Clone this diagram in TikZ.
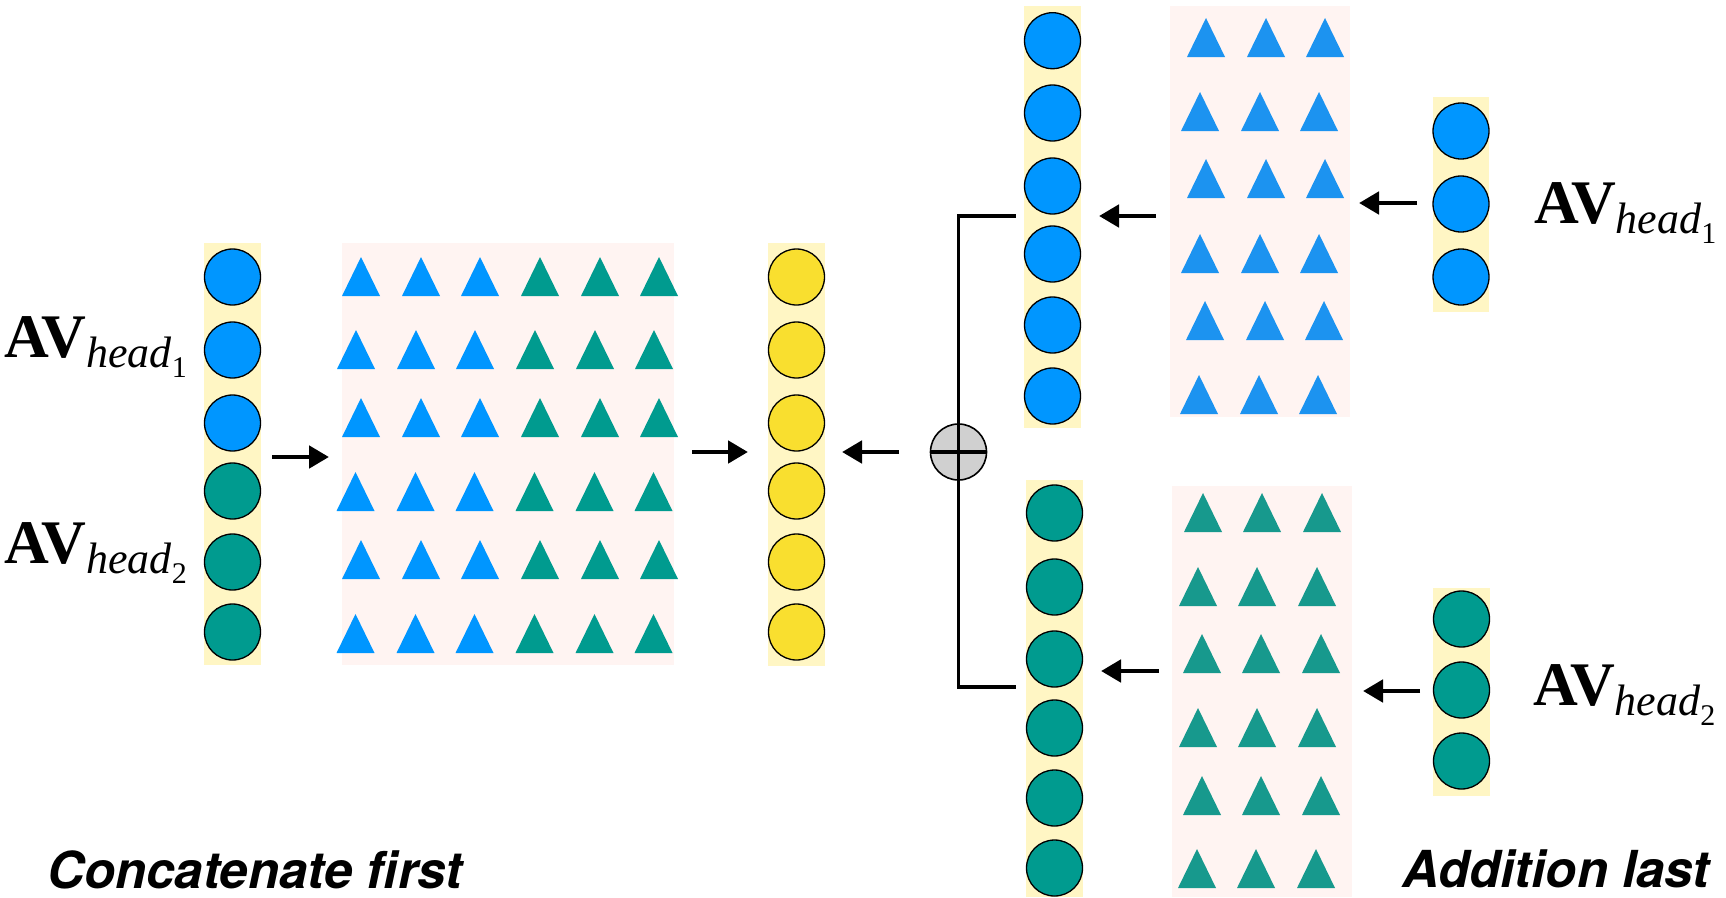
\documentclass[tikz,border=0pt]{standalone}
\usepackage{fontspec}
\setmainfont{Liberation Serif}
\newfontfamily\capfont{TeX Gyre Heros}
\usetikzlibrary{arrows.meta}
\definecolor{cblue}{HTML}{0096FF}
\definecolor{cgreen}{HTML}{009B8F}
\definecolor{cyell}{HTML}{F9DF2F}
\definecolor{tblue}{HTML}{1C93F0}
\definecolor{tgreen}{HTML}{17998D}
\definecolor{stripbg}{HTML}{FFF6C4}
\definecolor{pinkbg}{HTML}{FFF4F2}
\definecolor{plusgray}{HTML}{D0D0D0}
\newcommand{\tri}[3]{\fill[#3] ({#1-19},#2) -- ({#1+19},#2) -- (#1,{#2-39}) -- cycle;}
\newcommand{\avlabel}[1]{{\fontsize{62}{62}\selectfont\bfseries AV}\raisebox{-10pt}{\fontsize{44}{44}\selectfont\itshape head\raisebox{-10pt}{\fontsize{30}{30}\selectfont\upshape #1}}}
\begin{document}
\begin{tikzpicture}[x=1pt,y=-1pt,
  dot/.style={circle,draw=black,line width=1.3pt,minimum size=56pt,inner sep=0pt},
  strip/.style={fill=stripbg},
  panel/.style={fill=pinkbg},
  arr/.style={line width=4.8pt,-{Triangle[length=20pt,width=22pt]}},
  bracket/.style={line width=3.6pt},
  caption/.style={anchor=base west,inner sep=0pt,font=\capfont\bfseries\itshape\fontsize{51}{51}\selectfont},
  avl/.style={anchor=base west,inner sep=0pt}]
\useasboundingbox (0,0) rectangle (1726,897);
% backgrounds
\fill[strip] (204,243) rectangle (261,665);
\fill[panel] (341.5,243) rectangle (674,665);
\fill[strip] (768,243) rectangle (825,665.5);
\fill[strip] (1024,6) rectangle (1081,428);
\fill[panel] (1170,6) rectangle (1350,417);
\fill[strip] (1433,97) rectangle (1489,312);
\fill[strip] (1026,480) rectangle (1083,897);
\fill[panel] (1172,486) rectangle (1352,897);
\fill[strip] (1433,588) rectangle (1490,796);
% left column
\foreach \i/\y in {1/277,2/350,3/423} \node[dot,fill=cblue] (L\i) at (232.5,\y) {};
\foreach \i/\y in {4/491,5/562,6/632} \node[dot,fill=cgreen] (L\i) at (232.5,\y) {};
% yellow column
\foreach \i/\y in {1/277,2/350,3/423,4/491,5/562,6/632} \node[dot,fill=cyell] (Y\i) at (796.5,\y) {};
% upper blue column
\foreach \i/\y in {1/40.7,2/113,3/186,4/254,5/325,6/396} \node[dot,fill=cblue] (U\i) at (1052.5,\y) {};
% lower green column
\foreach \i/\y in {1/513,2/587,3/659,4/728,5/798,6/868} \node[dot,fill=cgreen] (D\i) at (1054.5,\y) {};
% small columns
\foreach \i/\y in {1/131,2/204,3/277} \node[dot,fill=cblue] (SU\i) at (1461,\y) {};
\foreach \i/\y in {1/619,2/690,3/761} \node[dot,fill=cgreen] (SD\i) at (1461.5,\y) {};
% left matrix
\foreach \y/\dx in {296/0,369/-5,437/0,511/-5.5,579/0,653/-5.5} {
  \foreach \x in {361,421,480} {\pgfmathsetmacro\xx{\x+\dx}\tri{\xx}{\y}{cblue}}
  \foreach \x in {540,600,659} {\pgfmathsetmacro\xx{\x+\dx}\tri{\xx}{\y}{cgreen}}
}
% upper right matrix
\foreach \y/\dx in {57/0,131/-6,198/0,273/-6,340/-1,414/-7} {
  \foreach \x in {1206,1266,1325} {\pgfmathsetmacro\xx{\x+\dx}\tri{\xx}{\y}{tblue}}
}
% lower right matrix
\foreach \y/\dx in {532/0,606/-5,673/-1,747/-5,815/-1,888/-6} {
  \foreach \x in {1203,1262,1322} {\pgfmathsetmacro\xx{\x+\dx}\tri{\xx}{\y}{tgreen}}
}
% arrows
\coordinate (a1s) at (272,457); \coordinate (a1e) at (329,457);
\coordinate (a2s) at (692,452); \coordinate (a2e) at (748,452);
\coordinate (a3s) at (899,452); \coordinate (a3e) at (842,452);
\coordinate (a4s) at (1156,216); \coordinate (a4e) at (1099,216);
\coordinate (a5s) at (1417,203); \coordinate (a5e) at (1359,203);
\coordinate (a6s) at (1159,671); \coordinate (a6e) at (1101,671);
\coordinate (a7s) at (1420,691); \coordinate (a7e) at (1363,691);
\foreach \k in {1,...,7} \draw[arr] (a\k s) -- (a\k e);
% bracket and plus
\coordinate (btop) at (1015.5,216);
\coordinate (bbot) at (1015.5,687);
\node[circle,draw=black,line width=1.6pt,fill=plusgray,minimum size=56pt,inner sep=0pt] (plus) at (958.5,452) {};
\draw[bracket] (btop) -- (958.5,216) -- (958.5,687) -- (bbot);
\draw[bracket] (plus.west) -- (plus.east);
% labels
\node[avl] (lab1) at (4.5,357) {\avlabel{1}};
\node[avl] (lab2) at (4.5,563) {\avlabel{2}};
\node[avl] (lab3) at (1534,223) {\avlabel{1}};
\node[avl] (lab4) at (1533,705) {\avlabel{2}};
\node[caption] (cap1) at (47,888) {Concatenate first};
\node[caption] (cap2) at (1402,887) {Addition last};
\end{tikzpicture}
\end{document}
